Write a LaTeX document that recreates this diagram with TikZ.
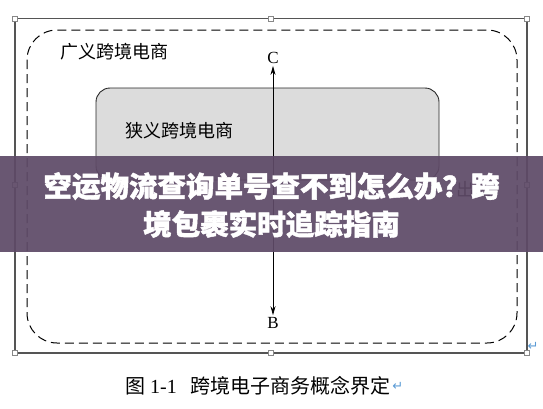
\documentclass[tikz,border=0pt]{standalone}
\usepackage{fontspec}
\setmainfont{Liberation Serif}
\newfontfamily\cjk{Noto Sans CJK SC}
\newfontfamily\cjkheavy{Noto Sans CJK SC}[BoldFeatures={FakeBold=1.6}]
\newfontfamily\symfont{DejaVu Sans}
\usepackage{tikz}
\usetikzlibrary{arrows.meta,positioning}
\usepackage{xcolor}
\definecolor{frameline}{HTML}{555555}
\definecolor{boxgray}{HTML}{DCDCDC}
\definecolor{banner}{HTML}{5E4A67}
\definecolor{returnblue}{HTML}{5B9BD5}
\tikzset{
    pageframe/.style={
        line width=1.1pt,
        color=frameline
    },
    handle/.style={
        draw=frameline!70,
        fill=white,
        line width=0.5pt,
        minimum size=5pt,
        inner sep=0pt
    },
    widebox/.style={
        dashed,
        dash pattern=on 9pt off 5pt,
        line width=1pt,
        rounded corners=30pt
    },
    narrowbox/.style={
        draw=black!85,
        fill=boxgray,
        line width=0.9pt,
        rounded corners=14pt
    },
    boxlabel/.style={
        font=\cjk\fontsize{18}{20}\selectfont,
        inner sep=0pt
    },
    endlabel/.style={
        font=\fontsize{17}{19}\selectfont,
        inner sep=2pt
    },
    link/.style={
        {Stealth[length=9pt,width=5pt]}-{Stealth[length=9pt,width=5pt]},
        line width=0.8pt
    }
}

\begin{document}
\begin{tikzpicture}[x=1pt,y=-1pt]

    \useasboundingbox (0,0) rectangle (543,408);

    % Cadre de la page
    \draw[pageframe]
        (15,18.5) rectangle (527,353);

    % Poignees
    \foreach \hx/\hy in {15/18.5,271/18.5,527/18.5,15/185,527/185,15/353,271/353,527/353}
        \node[handle] at (\hx,\hy) {};

    % Cadre large
    \draw[widebox]
        (27,30) rectangle (517,343);

    % Cadre etroit
    \draw[narrowbox]
        (96,88) rectangle (439,180);

    % Etiquettes des cadres
    \node[boxlabel,anchor=west] (wide) at (60,52) {广义跨境电商};
    \node[boxlabel,anchor=west] (narrow) at (125,131) {狭义跨境电商};
    \node[boxlabel,anchor=west] (export) at (456,190) {出口};

    % C et B
    \node[endlabel] (C) at (273,58) {C};
    \node[endlabel] (B) at (273,323) {B};

    % Fleche
    \draw[link]
        (C.south) -- (B.north);

    % Retour a la ligne
    \node[
        returnblue,
        font=\symfont\fontsize{13}{13}\selectfont,
        inner sep=0pt
    ] (ret) at (533,346) {↵};

    % Legende
    \node[
        anchor=west,
        inner sep=0pt,
        font=\fontsize{20}{22}\selectfont
    ] (caption) at (125,386)
        {{\cjk 图} 1-1\hspace{14pt}{\cjk 跨境电子商务概念界定}};
    \node[
        returnblue,
        font=\symfont\fontsize{13}{13}\selectfont,
        inner sep=0pt,
        right=1pt of caption
    ] (ret2) {↵};

    % Bandeau
    \fill[banner,fill opacity=0.93]
        (0,156) rectangle (543,252);
    \node[
        white,
        align=center,
        inner sep=0pt,
        font=\cjkheavy\bfseries\fontsize{28.5}{38}\selectfont
    ] (title) at (271.5,205)
        {空运物流查询单号查不到怎么办？跨\\境包裹实时追踪指南};

\end{tikzpicture}
\end{document}
